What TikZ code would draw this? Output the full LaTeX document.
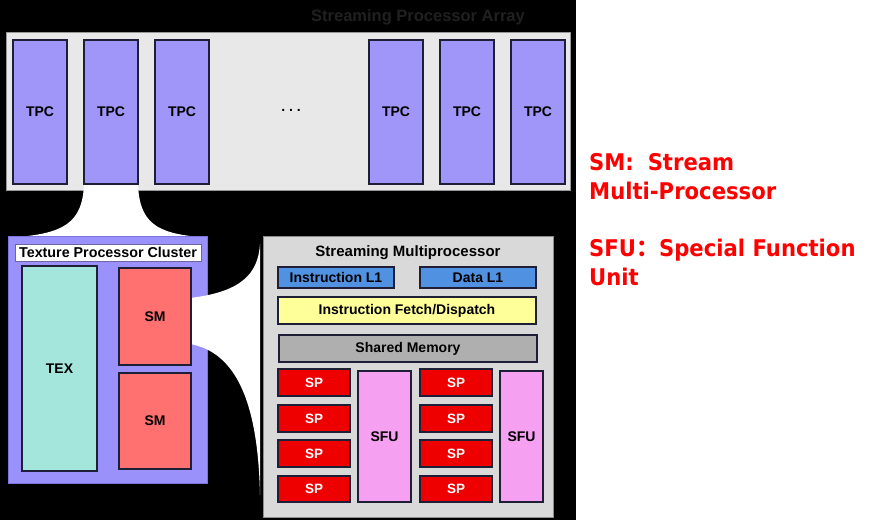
\documentclass[tikz,border=0pt]{standalone}
\usepackage{fontspec}
\setmainfont{Liberation Sans}
\newfontfamily\redfont{DejaVu Sans}[FakeStretch=0.92]
\newfontfamily\cjkfont{Noto Sans CJK SC}
\definecolor{tpcfill}{RGB}{160,150,250}
\definecolor{clfill}{RGB}{155,145,250}
\definecolor{texfill}{RGB}{165,230,220}
\definecolor{smfill}{RGB}{255,112,112}
\definecolor{l1fill}{RGB}{80,145,225}
\definecolor{fetchfill}{RGB}{255,255,153}
\definecolor{shfill}{RGB}{175,175,175}
\definecolor{spfill}{RGB}{238,0,0}
\definecolor{sfufill}{RGB}{245,160,240}
\definecolor{smbg}{RGB}{217,217,217}
\definecolor{topbg}{RGB}{232,232,232}
\definecolor{edge}{RGB}{30,30,55}
\definecolor{titlegray}{RGB}{32,32,32}
\definecolor{labred}{RGB}{255,0,0}
\newcommand{\bx}[7]{\node[#6, minimum width={(#4-#2)*1pt}, minimum height={(#5-#3)*1pt}] (#1) at ({(#2+#4)/2},{(#3+#5)/2}) {#7};}
\tikzset{
  base/.style={draw=edge, line width=1.4pt, inner sep=0pt, outer sep=0pt, font=\fontsize{14}{16}\selectfont\bfseries},
  tpc/.style={base, fill=tpcfill},
  texbox/.style={base, fill=texfill},
  smbox/.style={base, fill=smfill},
  l1box/.style={base, fill=l1fill},
  fetchbox/.style={base, fill=fetchfill},
  shbox/.style={base, fill=shfill},
  spbox/.style={base, fill=spfill, text=white, font=\fontsize{13.5}{15}\selectfont\bfseries},
  sfubox/.style={base, fill=sfufill},
  panel/.style={inner sep=0pt, outer sep=0pt, line width=0.8pt},
  funnel/.style={fill=white, draw=none},
  redtxt/.style={text=labred, anchor=base west, inner sep=0pt, font=\redfont\fontsize{23}{26}\selectfont\bfseries}
}
\begin{document}
\begin{tikzpicture}[x=1pt,y=-1pt]
\useasboundingbox (0,0) rectangle (872,520);
\fill[white] (0,0) rectangle (872,520);
\fill[black] (0,0) rectangle (576,520);
% title
\node[text=titlegray, font=\fontsize{16.5}{18}\selectfont\bfseries] (title) at (418,17) {Streaming Processor Array};
% top array
\bx{arr}{6}{32}{570}{190}{panel, fill=topbg, draw={rgb,255:red,150;green,150;blue,150}}{}
% funnel 1
\fill[funnel] (84,183) .. controls (83,224) and (62,233) .. (18,237) -- (199,237) .. controls (158,233) and (139,224) .. (138,183) -- cycle;
\bx{t1}{13}{40}{67}{184}{tpc}{TPC}
\bx{t2}{84}{40}{138}{184}{tpc}{TPC}
\bx{t3}{155}{40}{209}{184}{tpc}{TPC}
\node[font=\fontsize{14}{16}\selectfont\bfseries] (dots) at (291,110) {.\ .\ .};
\bx{t4}{369}{40}{423}{184}{tpc}{TPC}
\bx{t5}{440}{40}{494}{184}{tpc}{TPC}
\bx{t6}{511}{40}{565}{184}{tpc}{TPC}
% cluster
\bx{cl}{8}{236}{207}{483}{panel, fill=clfill, draw={rgb,255:red,125;green,115;blue,225}}{}
\bx{cllab}{15}{244}{201}{261}{panel, fill=white, draw={rgb,255:red,110;green,100;blue,160}, font=\fontsize{14.3}{16}\selectfont\bfseries}{Texture Processor Cluster}
% funnel 2
\fill[funnel] (190,298) .. controls (240,292) and (258,275) .. (260,244) -- (260,495) .. controls (258,400) and (235,352) .. (190,344) -- cycle;
\bx{tex}{22}{266}{97}{471}{texbox}{TEX}
\bx{sm1}{119}{268}{191}{365}{smbox}{SM}
\bx{sm2}{119}{373}{191}{469}{smbox}{SM}
% streaming multiprocessor
\bx{smp}{263}{236}{553}{517}{panel, fill=smbg, draw={rgb,255:red,140;green,140;blue,140}}{}
\node[font=\fontsize{15}{17}\selectfont\bfseries] (smptitle) at (408,253) {Streaming Multiprocessor};
\bx{il1}{278}{267}{394}{288}{l1box}{Instruction L1}
\bx{dl1}{420}{267}{536}{288}{l1box}{Data L1}
\bx{fetch}{278}{297}{536}{324}{fetchbox}{Instruction Fetch/Dispatch}
\bx{shm}{279}{335}{537}{362}{shbox}{Shared Memory}
\bx{spa1}{278}{369}{350}{396}{spbox}{SP}
\bx{spa2}{278}{405}{350}{432}{spbox}{SP}
\bx{spa3}{278}{440}{350}{467}{spbox}{SP}
\bx{spa4}{278}{476}{350}{502}{spbox}{SP}
\bx{sfu1}{358}{371}{411}{502}{sfubox}{SFU}
\bx{spb1}{420}{369}{492}{396}{spbox}{SP}
\bx{spb2}{420}{405}{492}{432}{spbox}{SP}
\bx{spb3}{420}{440}{492}{467}{spbox}{SP}
\bx{spb4}{420}{476}{492}{502}{spbox}{SP}
\bx{sfu2}{500}{371}{543}{502}{sfubox}{SFU}
% right notes
\node[redtxt] (n1) at (589,170) {SM:\hspace{0.6em}Stream};
\node[redtxt] (n2) at (589,199) {Multi-Processor};
\node[redtxt] (n3) at (589,256) {SFU{\cjkfont\bfseries ：}Special Function};
\node[redtxt] (n4) at (589,285) {Unit};
\end{tikzpicture}
\end{document}
